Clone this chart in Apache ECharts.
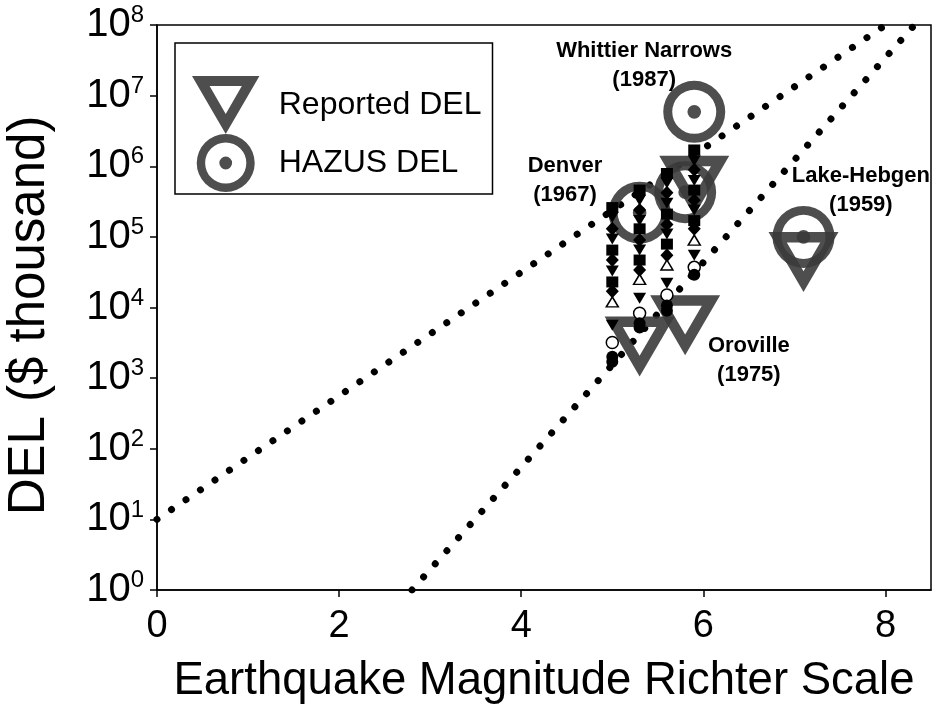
<!DOCTYPE html>
<html>
<head>
<meta charset="utf-8">
<script src="https://cdn.jsdelivr.net/npm/echarts@6/dist/echarts.min.js"></script>
<style>
  html, body { margin: 0; background: #fff; }
  #chart { width: 934px; height: 726px; }
</style>
</head>
<body>
<div id="chart"></div>
<script>
// magnitude, DEL ($ thousand)
var reportedDel = [[5.9, 5.3e5], [5.3, 2.8e3], [5.8, 5.6e3], [7.1, 4.4e4]];
var hazusDel = [[5.9, 5.9e6], [5.8, 4.3e5], [5.3, 2.2e5], [7.1, 1.0e5]];

// small scenario markers stacked at M 5.0 / 5.3 / 5.6 / 5.9
var squarePts = [
  [5.0, 2.6e5], [5.0, 6.5e4], [5.0, 2.3e4],
  [5.3, 4.6e5], [5.3, 1.3e5], [5.3, 4.7e4],
  [5.6, 7.9e5], [5.6, 2.1e5], [5.6, 7.9e4],
  [5.9, 1.7e6], [5.9, 4.6e5], [5.9, 1.7e5]
];
var triDownPts = [
  [5.0, 1.9e5], [5.0, 9.3e4], [5.0, 3.3e4], [5.0, 5.6e3],
  [5.3, 3.3e5], [5.3, 1.7e5], [5.3, 6.5e4], [5.3, 1.35e4],
  [5.6, 5.8e5], [5.6, 3.0e5], [5.6, 1.1e5], [5.6, 2.2e4],
  [5.9, 1.2e6], [5.9, 6.3e5], [5.9, 2.4e5], [5.9, 5.5e4]
];
var diamondPts = [
  [5.0, 1.3e5], [5.0, 4.7e4], [5.0, 1.7e4],
  [5.3, 2.4e5], [5.3, 9.0e4], [5.3, 3.4e4],
  [5.6, 4.2e5], [5.6, 1.5e5], [5.6, 5.5e4],
  [5.9, 8.9e5], [5.9, 3.3e5], [5.9, 1.3e5]
];
var openTriUpPts = [[5.0, 1.2e4], [5.3, 2.5e4], [5.6, 4.0e4], [5.9, 9.0e4]];
var openCirclePts = [[5.0, 3.2e3], [5.3, 8.3e3], [5.6, 1.5e4], [5.9, 3.7e4]];
var filledCirclePts = [
  [5.0, 2.0e3], [5.0, 1.7e3], [5.3, 6.0e3], [5.3, 5.2e3],
  [5.6, 1.07e4], [5.6, 9.0e3], [5.9, 2.9e4]
];

// dotted reference lines (end points)
var upperLine = [[0, 10], [8.0, 1e8]];
var lowerLine = [[2.8, 1], [8.3, 9.4e7]];

var eventNames = ['Whittier Narrows\n(1987)', 'Denver\n(1967)', 'Lake-Hebgen\n(1959)', 'Oroville\n(1975)'];
var eventLabelPos = [[5.35, 2.7e7], [4.48, 6.3e5], [7.73, 4.6e5], [6.5, 1.8e3]];

var xTicks = [0, 2, 4, 6, 8];

var font = 'Liberation Sans';
var bigColor = '#3b3b3b';
var triOutline = 'path://M0,0 L100,0 L50,86 Z M26.1,15 L50,56.2 L73.9,15 Z';
var ringDot = 'path://M0,50 A50,50 0 1,1 100,50 A50,50 0 1,1 0,50 Z ' +
  'M14.5,50 A35.5,35.5 0 1,0 85.5,50 A35.5,35.5 0 1,0 14.5,50 Z ' +
  'M39,50 A11,11 0 1,1 61,50 A11,11 0 1,1 39,50 Z';

function dotted(data) {
  return {
    type: 'line', data: data, symbol: 'none', silent: true,
    lineStyle: { color: '#000', width: 7, type: [0.01, 17.5], cap: 'round' },
    z: 1
  };
}

function small(data, symbol, size, fill, rotate) {
  return {
    type: 'scatter', data: data, symbol: symbol, symbolSize: size,
    symbolRotate: rotate || 0,
    itemStyle: { color: fill, borderColor: '#000', borderWidth: fill === '#fff' ? 1.5 : 0, opacity: 1 },
    z: 4
  };
}

var chart = echarts.init(document.getElementById('chart'));
chart.setOption({
  animation: false,
  backgroundColor: '#fff',
  grid: {
    left: 157, right: 3, top: 25, bottom: 136,
    outerBoundsMode: 'none',
    show: true, borderColor: '#000', borderWidth: 1.5
  },
  legend: {
    data: ['Reported DEL', 'HAZUS DEL'],
    orient: 'vertical',
    left: 175, top: 43,
    padding: [33, 11, 2, 17],
    itemWidth: 70, itemHeight: 58, itemGap: 0,
    borderColor: '#000', borderWidth: 1.5,
    textStyle: { fontFamily: font, fontSize: 32, color: '#000', padding: [0, 0, 0, 13] }
  },
  xAxis: {
    type: 'value', min: 0, max: 8.5,
    name: 'Earthquake Magnitude Richter Scale',
    nameLocation: 'middle', nameGap: 68,
    nameTextStyle: { fontFamily: font, fontSize: 45.5, color: '#000' },
    axisLine: { lineStyle: { color: '#000', width: 1.5 } },
    axisTick: { length: 7, lineStyle: { color: '#000', width: 1.5 }, customValues: xTicks },
    axisLabel: { fontFamily: font, fontSize: 38, color: '#000', margin: 18, customValues: xTicks },
    splitLine: { show: false }
  },
  yAxis: {
    type: 'log', logBase: 10, min: 1, max: 1e8,
    name: 'DEL ($ thousand)',
    nameLocation: 'middle', nameGap: 102, nameRotate: 90,
    nameTextStyle: { fontFamily: font, fontSize: 51, color: '#000', padding: [0, 16, 0, 0] },
    axisLine: { lineStyle: { color: '#000', width: 1.5 } },
    axisTick: { length: 7, lineStyle: { color: '#000', width: 1.5 } },
    axisLabel: {
      margin: 13,
      formatter: function (v) {
        return '{b|10}{s|' + Math.round(Math.log10(v)) + '}';
      },
      rich: {
        b: { fontFamily: font, fontSize: 40, color: '#000', lineHeight: 43 },
        s: { fontFamily: font, fontSize: 24, color: '#000', lineHeight: 26, verticalAlign: 'top' }
      }
    },
    splitLine: { show: false }
  },
  series: [
    dotted(upperLine),
    dotted(lowerLine),
    {
      name: 'Reported DEL', type: 'scatter', data: reportedDel,
      symbol: triOutline, symbolSize: [70, 60],
      itemStyle: { color: bigColor, opacity: 0.9 }, z: 2
    },
    {
      name: 'HAZUS DEL', type: 'scatter', data: hazusDel,
      symbol: ringDot, symbolSize: 62,
      itemStyle: { color: bigColor, opacity: 0.9 }, z: 2
    },
    small(squarePts, 'rect', [12, 11], '#000'),
    small(diamondPts, 'diamond', [13, 14], '#000'),
    small(triDownPts, 'triangle', [13, 11], '#000', 180),
    small(openTriUpPts, 'triangle', [12, 10], '#fff'),
    small(openCirclePts, 'circle', 12, '#fff'),
    small(filledCirclePts, 'circle', 12, '#000'),
    {
      type: 'scatter', symbolSize: 0, silent: true, z: 5,
      itemStyle: { opacity: 1 },
      data: eventNames.map(function (n, i) { return { name: n, value: eventLabelPos[i] }; }),
      label: {
        show: true, position: 'inside', formatter: '{b}',
        fontFamily: font, fontWeight: 'bold', fontSize: 22, lineHeight: 29,
        color: '#000', align: 'center', verticalAlign: 'middle'
      }
    }
  ]
});
</script>
</body>
</html>
